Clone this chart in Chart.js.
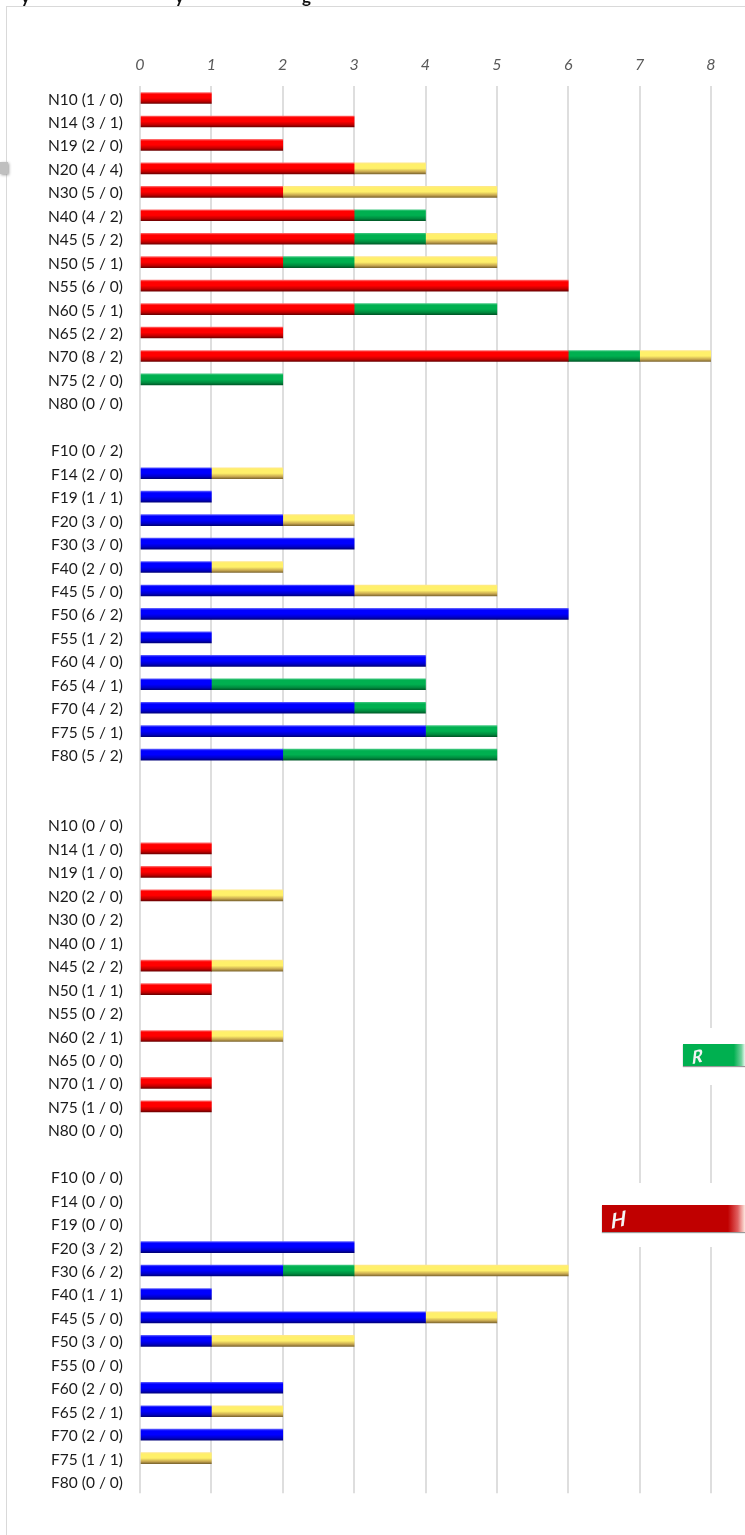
<!DOCTYPE html>
<html>
<head>
<meta charset="utf-8">
<title>Chart</title>
<script src="https://cdn.jsdelivr.net/npm/chart.js@4/dist/chart.umd.min.js"></script>
<style>
    html, body { margin: 0; padding: 0; background: #fff; overflow: hidden; }
    #page { position: relative; width: 745px; height: 1535px; overflow: hidden; font-family: Lato, sans-serif; }
    #chart { position: absolute; left: 0; top: 0; }
    .frame { position: absolute; left: 6px; top: 6px; width: 760px; height: 1560px; border: 1px solid #d9d9d9; }
    .clip { position: absolute; top: -14px; font: bold 17px Lato, sans-serif; color: #111; }
    .tab { position: absolute; left: 0; top: 162px; width: 8px; height: 12px; background: #bfbfbf; box-shadow: 1px 1px 3px #999; }
    .gap { position: absolute; background: #fff; }
    .badge { position: absolute; color: #f4f4f4; font-family: Lato, sans-serif; font-style: italic; font-weight: bold; box-shadow: 0 1px 1px #999; }
    .badge span { position: absolute; line-height: 1; transform: skewY(-14deg); }
</style>
</head>
<body>
<div id="page">
    <canvas id="chart" width="745" height="1535"></canvas>
    <div class="frame"></div>
    <div class="clip" style="left:21px">y</div>
    <div class="clip" style="left:175px">y</div>
    <div class="clip" style="left:302px">g</div>
    <div class="tab"></div>
    <div class="gap" style="left:680px;top:1028px;width:65px;height:57px"></div>
    <div class="gap" style="left:590px;top:1183px;width:155px;height:64px"></div>
    <div class="badge" style="left:683px;top:1044px;width:62px;height:22px;background:linear-gradient(to right,#00b050 82%,#6fd09a 94%,#e8f8ee 100%)"><span style="left:9px;top:3px;font-size:18px">R</span></div>
    <div class="badge" style="left:602px;top:1205px;width:143px;height:27px;background:linear-gradient(to right,#c00000 88%,#e06060 95%,#fde8e0 100%)"><span style="left:9px;top:3px;font-size:21px">H</span></div>
</div>
<script>
const labels = [
    'N10 (1 / 0)', 'N14 (3 / 1)', 'N19 (2 / 0)', 'N20 (4 / 4)', 'N30 (5 / 0)', 'N40 (4 / 2)', 'N45 (5 / 2)',
    'N50 (5 / 1)', 'N55 (6 / 0)', 'N60 (5 / 1)', 'N65 (2 / 2)', 'N70 (8 / 2)', 'N75 (2 / 0)', 'N80 (0 / 0)', '',
    'F10 (0 / 2)', 'F14 (2 / 0)', 'F19 (1 / 1)', 'F20 (3 / 0)', 'F30 (3 / 0)', 'F40 (2 / 0)', 'F45 (5 / 0)',
    'F50 (6 / 2)', 'F55 (1 / 2)', 'F60 (4 / 0)', 'F65 (4 / 1)', 'F70 (4 / 2)', 'F75 (5 / 1)', 'F80 (5 / 2)', '', '',
    'N10 (0 / 0)', 'N14 (1 / 0)', 'N19 (1 / 0)', 'N20 (2 / 0)', 'N30 (0 / 2)', 'N40 (0 / 1)', 'N45 (2 / 2)',
    'N50 (1 / 1)', 'N55 (0 / 2)', 'N60 (2 / 1)', 'N65 (0 / 0)', 'N70 (1 / 0)', 'N75 (1 / 0)', 'N80 (0 / 0)', '',
    'F10 (0 / 0)', 'F14 (0 / 0)', 'F19 (0 / 0)', 'F20 (3 / 2)', 'F30 (6 / 2)', 'F40 (1 / 1)', 'F45 (5 / 0)',
    'F50 (3 / 0)', 'F55 (0 / 0)', 'F60 (2 / 0)', 'F65 (2 / 1)', 'F70 (2 / 0)', 'F75 (1 / 1)', 'F80 (0 / 0)'
];

const redValues = [
    1, 3, 2, 3, 2, 3, 3, 2, 6, 3, 2, 6, 0, 0, 0,
    0, 0, 0, 0, 0, 0, 0, 0, 0, 0, 0, 0, 0, 0, 0, 0,
    0, 1, 1, 1, 0, 0, 1, 1, 0, 1, 0, 1, 1, 0, 0,
    0, 0, 0, 0, 0, 0, 0, 0, 0, 0, 0, 0, 0, 0
];
const blueValues = [
    0, 0, 0, 0, 0, 0, 0, 0, 0, 0, 0, 0, 0, 0, 0,
    0, 1, 1, 2, 3, 1, 3, 6, 1, 4, 1, 3, 4, 2, 0, 0,
    0, 0, 0, 0, 0, 0, 0, 0, 0, 0, 0, 0, 0, 0, 0,
    0, 0, 0, 3, 2, 1, 4, 1, 0, 2, 1, 2, 0, 0
];
const greenValues = [
    0, 0, 0, 0, 0, 1, 1, 1, 0, 2, 0, 1, 2, 0, 0,
    0, 0, 0, 0, 0, 0, 0, 0, 0, 0, 3, 1, 1, 3, 0, 0,
    0, 0, 0, 0, 0, 0, 0, 0, 0, 0, 0, 0, 0, 0, 0,
    0, 0, 0, 0, 1, 0, 0, 0, 0, 0, 0, 0, 0, 0
];
const yellowValues = [
    0, 0, 0, 1, 3, 0, 1, 2, 0, 0, 0, 1, 0, 0, 0,
    0, 1, 0, 1, 0, 1, 2, 0, 0, 0, 0, 0, 0, 0, 0, 0,
    0, 0, 0, 1, 0, 0, 1, 0, 0, 1, 0, 0, 0, 0, 0,
    0, 0, 0, 0, 3, 0, 1, 2, 0, 0, 1, 0, 1, 0
];

const BAR_HEIGHT = 11;

// each bar gets its own top-to-bottom shine, like the Excel bevel
function shine(stops) {
    return function (context) {
        const yScale = context.chart.scales.y;
        if (!yScale || context.dataIndex === undefined) return stops[1];
        const mid = yScale.getPixelForValue(context.dataIndex);
        // scale has no size yet on the first pass
        if (!Number.isFinite(mid)) return stops[1];
        const g = context.chart.ctx.createLinearGradient(0, mid - BAR_HEIGHT / 2, 0, mid + BAR_HEIGHT / 2);
        g.addColorStop(0, stops[0]);
        g.addColorStop(0.15, stops[1]);
        g.addColorStop(0.5, stops[1]);
        g.addColorStop(0.8, stops[2]);
        g.addColorStop(1, stops[3]);
        return g;
    };
}

function series(name, data, stops) {
    return {
        label: name,
        // a 0 would still paint a hairline, so leave it out
        data: data.map(v => v === 0 ? null : v),
        backgroundColor: shine(stops),
        borderWidth: 0,
        barThickness: BAR_HEIGHT
    };
}

new Chart(document.getElementById('chart'), {
    type: 'bar',
    data: {
        labels: labels,
        datasets: [
            series('red', redValues, ['#ff6a6a', '#ff0000', '#c00000', '#6e0000']),
            series('blue', blueValues, ['#5a5aff', '#0000ff', '#0000c8', '#00007a']),
            series('green', greenValues, ['#40c880', '#00b050', '#008a3e', '#005a28']),
            series('yellow', yellowValues, ['#ffe88a', '#fff06a', '#c8a850', '#806830'])
        ]
    },
    options: {
        indexAxis: 'y',
        responsive: false,
        animation: false,
        layout: { padding: { left: 0, top: 0, right: 34, bottom: 41.7 } },
        plugins: { legend: { display: false }, title: { display: false }, tooltip: { enabled: false } },
        scales: {
            x: {
                position: 'top',
                stacked: true,
                min: 0,
                max: 8,
                afterFit: (scale) => { scale.height = 86.3; },
                border: { display: false },
                grid: { color: '#dedede', lineWidth: 2, drawTicks: false },
                ticks: {
                    stepSize: 1,
                    padding: 12,
                    maxRotation: 0,
                    color: '#595959',
                    font: { family: 'Lato', size: 16, style: 'italic' }
                }
            },
            y: {
                stacked: true,
                afterFit: (scale) => { scale.width = 140; },
                border: { display: false },
                grid: { display: false, drawTicks: false },
                ticks: {
                    autoSkip: false,
                    padding: 17,
                    labelOffset: 1.5,
                    color: '#1a1a1a',
                    font: { family: 'Lato', size: 15.5 }
                }
            }
        }
    }
});
</script>
</body>
</html>
